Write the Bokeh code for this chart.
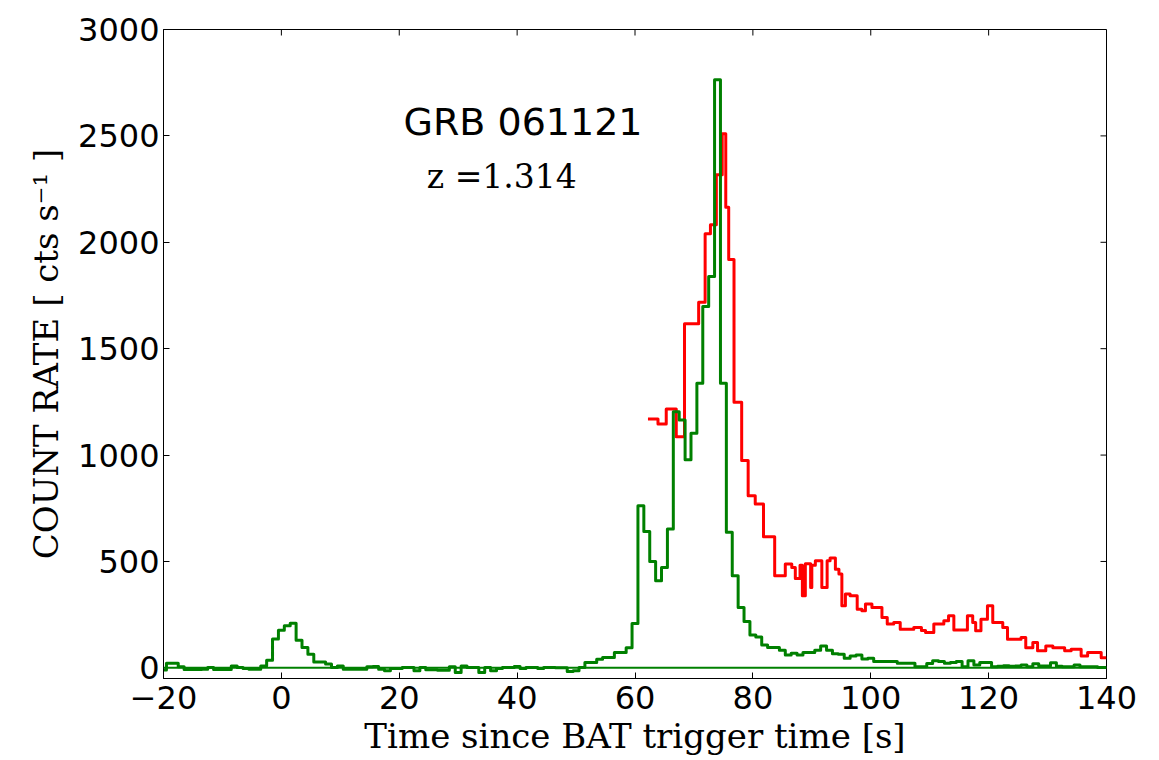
import math
from bokeh.plotting import figure
from bokeh.models import Span, Label, FixedTicker, Range1d
from bokeh.embed import file_html
from bokeh.resources import INLINE

# ---- data ----
# BAT light curve: 1 s bins centred on integer seconds
green_t = list(range(-20, 141))
green_rate = [
    -10, 22, 22, 5, -8, -8, -8, -6, 2, -8,          # -20 .. -11
    -8, -8, 9, 2, -3, -6, -6, 9, 36, 136,           # -10 .. -1
    177, 198, 210, 130, 96, 64, 28, 28, 18, 2,      # 0 .. 9
    9, -6, -6, -6, -6, 5, 6, -6, -14, -3,           # 10 .. 19
    -3, 2, 2, -14, 2, -9, -9, -11, -11, 5,          # 20 .. 29
    -22, 9, 2, 2, -22, 2, -14, -3, 2, 2,            # 30 .. 39
    6, -3, 2, 2, -3, 2, 2, 0, 0, -17,               # 40 .. 49
    -14, 2, 25, 25, 41, 49, 49, 72, 72, 95,         # 50 .. 59
    208, 762, 641, 500, 409, 472, 652, 1204, 1165, 978,      # 60 .. 69
    1102, 1337, 1698, 1839, 2764, 1337, 637, 433, 284, 218,  # 70 .. 79
    155, 145, 108, 96, 96, 83, 61, 69, 61, 72,      # 80 .. 89
    72, 83, 103, 83, 66, 64, 45, 56, 61, 42,        # 90 .. 99
    45, 30, 30, 30, 30, 22, 22, 22, 5, 5,           # 100 .. 109
    20, 33, 30, 22, 25, 30, 5, 33, 14, 25,          # 110 .. 119
    25, 5, 8, 10, 8, 9, 14, 5, 19, 9,               # 120 .. 129
    9, 24, 8, 5, 5, 14, 5, 5, 5, 2,                 # 130 .. 139
    2,                                              # 140
]

# XRT light curve: variable-width bins, left edges + final right edge
red_edges = [
    62.2, 63.9, 65.3, 67.0, 68.4, 70.8, 71.9, 72.8, 73.8, 74.8,
    75.4, 75.9, 76.8, 78.1, 79.2, 80.4, 81.8, 83.7, 85.5, 86.6,
    87.2, 88.0, 88.4, 88.9, 89.8, 90.0, 90.6, 91.7, 92.6, 93.1,
    94.0, 94.6, 95.1, 95.7, 96.5, 97.7, 98.5, 99.1, 100.2, 101.9,
    102.8, 103.9, 105.0, 107.3, 108.6, 109.3, 110.7, 112.4, 113.2, 114.1,
    116.4, 117.3, 117.8, 118.7, 119.8, 120.7, 122.4, 123.2, 125.5, 126.3,
    127.5, 128.3, 129.7, 130.9, 132.9, 134.0, 135.7, 136.8, 139.1, 140.0,
]
red_rate = [
    1170, 1146, 1217, 1086, 1617, 1718, 2040, 2082, 2317, 2510,
    2165, 1919, 1248, 974, 809, 770, 616, 433, 488, 472,
    420, 482, 339, 489, 378, 482, 503, 378, 503, 516,
    464, 441, 292, 347, 339, 276, 268, 300, 284, 237,
    206, 213, 182, 190, 175, 166, 206, 221, 245, 178,
    245, 213, 174, 229, 292, 213, 190, 135, 143, 95,
    119, 80, 103, 95, 80, 88, 56, 72, 48,
]

x_ticks = [-20, 0, 20, 40, 60, 80, 100, 120, 140]
x_tick_labels = ["\u221220", "0", "20", "40", "60", "80", "100", "120", "140"]
y_ticks = [0, 500, 1000, 1500, 2000, 2500, 3000]
x_limits = (-20, 140)
y_limits = (-50, 3000)

x_label = "Time since BAT trigger time [s]"
y_label = "COUNT RATE [ cts s\u207b\u00b9 ]"
title_text = "GRB 061121"
redshift_text = "z =1.314"

# ---- figure ----
p = figure(width=1159, height=760,
           x_range=Range1d(*x_limits), y_range=Range1d(*y_limits),
           output_backend="svg", toolbar_location=None,
           min_border_left=163, min_border_right=53,
           min_border_top=29, min_border_bottom=82)
p.background_fill_color = "white"
p.border_fill_color = "white"
p.grid.visible = False
p.outline_line_color = "black"
p.outline_line_width = 1

SANS = "DejaVu Sans"
SERIF = "DejaVu Serif"

for ax in (p.xaxis[0], p.yaxis[0]):
    ax.major_tick_in = 6
    ax.major_tick_out = 0
    ax.minor_tick_line_color = None
    ax.axis_line_color = "black"
    ax.major_tick_line_color = "black"
    ax.major_label_text_font = SANS
    ax.major_label_text_font_size = "32px"
    ax.major_label_text_color = "black"
    ax.axis_label_text_font = SERIF
    ax.axis_label_text_font_size = "34px"
    ax.axis_label_text_font_style = "normal"
    ax.axis_label_text_color = "black"

p.xaxis.ticker = FixedTicker(ticks=x_ticks)
p.xaxis.major_label_overrides = {t: s for t, s in zip(x_ticks, x_tick_labels)}
p.xaxis.major_label_standoff = 7
p.xaxis.axis_label = x_label
p.xaxis.axis_label_standoff = 4

p.yaxis.ticker = FixedTicker(ticks=y_ticks)
p.yaxis.major_label_standoff = 4
p.yaxis.axis_label = y_label
p.yaxis.axis_label_standoff = 9

# mirrored inward ticks on the top and right frame edges
p.ray(x=x_ticks, y=[y_limits[1]] * len(x_ticks), length=6, length_units="screen",
      angle=-math.pi / 2, line_color="black", line_width=1)
p.ray(x=[x_limits[1]] * len(y_ticks), y=y_ticks, length=6, length_units="screen",
      angle=math.pi, line_color="black", line_width=1)

# zero line
p.add_layout(Span(location=0, dimension="width", line_color="#008000", line_width=2))

# XRT (red) first, BAT (green) on top
p.step(red_edges, red_rate + [red_rate[-1]], mode="after",
       line_color="#ff0000", line_width=3, line_join="round")
p.step(green_t, green_rate, mode="center",
       line_color="#008000", line_width=3, line_join="round")

p.add_layout(Label(x=41, y=2565, text=title_text, text_font=SANS,
                   text_font_size="38px", text_align="center",
                   text_baseline="alphabetic", text_color="black"))
p.add_layout(Label(x=37.4, y=2310, text=redshift_text, text_font=SERIF,
                   text_font_size="33px", text_align="center",
                   text_baseline="alphabetic", text_color="black"))

open("out.html", "w").write(file_html(p, INLINE))
